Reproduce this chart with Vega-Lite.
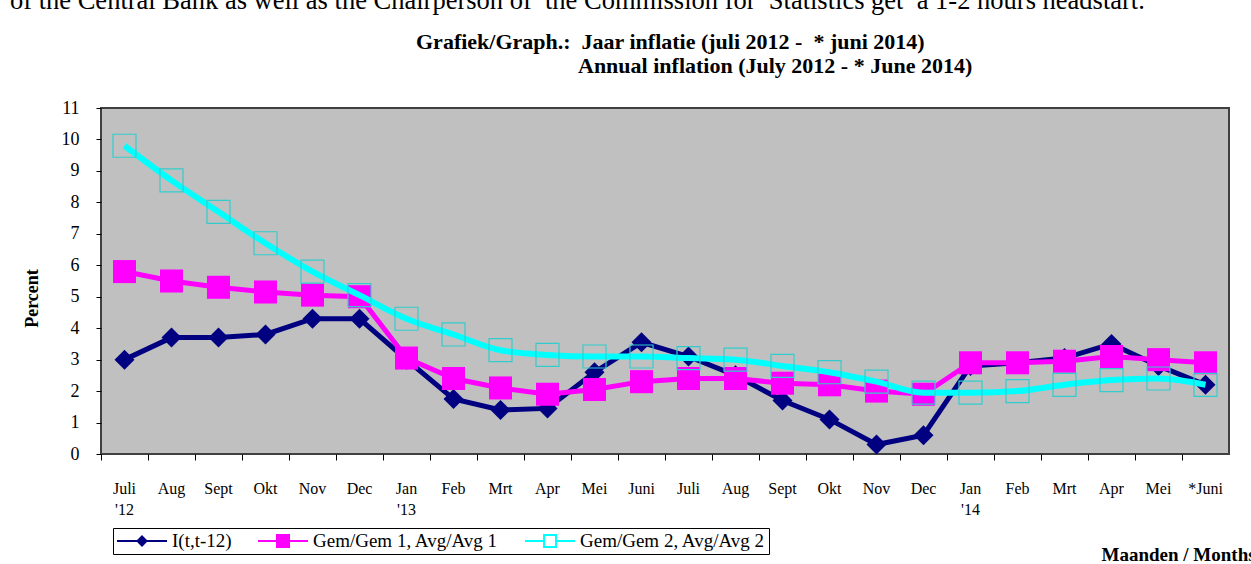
{
  "$schema": "https://vega.github.io/schema/vega-lite/v6.json",
  "background": "white",
  "padding": {"left": 10, "top": -13, "right": 0, "bottom": 0},
  "title": {
    "text": "of the Central Bank as well as the Chairperson of\u00a0 the Commission for\u00a0 Statistics get\u00a0 a 1-2 hours headstart.",
    "anchor": "start", "frame": "bounds", "dx": -12,
    "font": "Liberation Serif", "fontSize": 26.5, "fontWeight": "normal", "color": "black", "offset": 17
  },
  "datasets": {
    "d": [
      {"month": "Juli 2012", "series": "I(t,t-12)", "value": 3.0},
      {"month": "Aug 2012", "series": "I(t,t-12)", "value": 3.7},
      {"month": "Sept 2012", "series": "I(t,t-12)", "value": 3.7},
      {"month": "Okt 2012", "series": "I(t,t-12)", "value": 3.8},
      {"month": "Nov 2012", "series": "I(t,t-12)", "value": 4.3},
      {"month": "Dec 2012", "series": "I(t,t-12)", "value": 4.3},
      {"month": "Jan 2013", "series": "I(t,t-12)", "value": 3.0},
      {"month": "Feb 2013", "series": "I(t,t-12)", "value": 1.75},
      {"month": "Mrt 2013", "series": "I(t,t-12)", "value": 1.4},
      {"month": "Apr 2013", "series": "I(t,t-12)", "value": 1.45},
      {"month": "Mei 2013", "series": "I(t,t-12)", "value": 2.6},
      {"month": "Juni 2013", "series": "I(t,t-12)", "value": 3.55},
      {"month": "Juli 2013", "series": "I(t,t-12)", "value": 3.1},
      {"month": "Aug 2013", "series": "I(t,t-12)", "value": 2.5},
      {"month": "Sept 2013", "series": "I(t,t-12)", "value": 1.7},
      {"month": "Okt 2013", "series": "I(t,t-12)", "value": 1.1},
      {"month": "Nov 2013", "series": "I(t,t-12)", "value": 0.3},
      {"month": "Dec 2013", "series": "I(t,t-12)", "value": 0.6},
      {"month": "Jan 2014", "series": "I(t,t-12)", "value": 2.8},
      {"month": "Feb 2014", "series": "I(t,t-12)", "value": 2.9},
      {"month": "Mrt 2014", "series": "I(t,t-12)", "value": 3.05},
      {"month": "Apr 2014", "series": "I(t,t-12)", "value": 3.5},
      {"month": "Mei 2014", "series": "I(t,t-12)", "value": 2.8},
      {"month": "*Juni 2014", "series": "I(t,t-12)", "value": 2.2},
      {"month": "Juli 2012", "series": "Gem/Gem 1, Avg/Avg 1", "value": 5.8},
      {"month": "Aug 2012", "series": "Gem/Gem 1, Avg/Avg 1", "value": 5.5},
      {"month": "Sept 2012", "series": "Gem/Gem 1, Avg/Avg 1", "value": 5.3},
      {"month": "Okt 2012", "series": "Gem/Gem 1, Avg/Avg 1", "value": 5.15},
      {"month": "Nov 2012", "series": "Gem/Gem 1, Avg/Avg 1", "value": 5.05},
      {"month": "Dec 2012", "series": "Gem/Gem 1, Avg/Avg 1", "value": 5.0},
      {"month": "Jan 2013", "series": "Gem/Gem 1, Avg/Avg 1", "value": 3.05},
      {"month": "Feb 2013", "series": "Gem/Gem 1, Avg/Avg 1", "value": 2.4},
      {"month": "Mrt 2013", "series": "Gem/Gem 1, Avg/Avg 1", "value": 2.1},
      {"month": "Apr 2013", "series": "Gem/Gem 1, Avg/Avg 1", "value": 1.9},
      {"month": "Mei 2013", "series": "Gem/Gem 1, Avg/Avg 1", "value": 2.05},
      {"month": "Juni 2013", "series": "Gem/Gem 1, Avg/Avg 1", "value": 2.3},
      {"month": "Juli 2013", "series": "Gem/Gem 1, Avg/Avg 1", "value": 2.4},
      {"month": "Aug 2013", "series": "Gem/Gem 1, Avg/Avg 1", "value": 2.4},
      {"month": "Sept 2013", "series": "Gem/Gem 1, Avg/Avg 1", "value": 2.25},
      {"month": "Okt 2013", "series": "Gem/Gem 1, Avg/Avg 1", "value": 2.2},
      {"month": "Nov 2013", "series": "Gem/Gem 1, Avg/Avg 1", "value": 2.0},
      {"month": "Dec 2013", "series": "Gem/Gem 1, Avg/Avg 1", "value": 1.9},
      {"month": "Jan 2014", "series": "Gem/Gem 1, Avg/Avg 1", "value": 2.9},
      {"month": "Feb 2014", "series": "Gem/Gem 1, Avg/Avg 1", "value": 2.9},
      {"month": "Mrt 2014", "series": "Gem/Gem 1, Avg/Avg 1", "value": 2.95},
      {"month": "Apr 2014", "series": "Gem/Gem 1, Avg/Avg 1", "value": 3.1},
      {"month": "Mei 2014", "series": "Gem/Gem 1, Avg/Avg 1", "value": 3.0},
      {"month": "*Juni 2014", "series": "Gem/Gem 1, Avg/Avg 1", "value": 2.9},
      {"month": "Juli 2012", "series": "Gem/Gem 2, Avg/Avg 2", "value": 9.8},
      {"month": "Aug 2012", "series": "Gem/Gem 2, Avg/Avg 2", "value": 8.7},
      {"month": "Sept 2012", "series": "Gem/Gem 2, Avg/Avg 2", "value": 7.7},
      {"month": "Okt 2012", "series": "Gem/Gem 2, Avg/Avg 2", "value": 6.7},
      {"month": "Nov 2012", "series": "Gem/Gem 2, Avg/Avg 2", "value": 5.8},
      {"month": "Dec 2012", "series": "Gem/Gem 2, Avg/Avg 2", "value": 5.05},
      {"month": "Jan 2013", "series": "Gem/Gem 2, Avg/Avg 2", "value": 4.3},
      {"month": "Feb 2013", "series": "Gem/Gem 2, Avg/Avg 2", "value": 3.8},
      {"month": "Mrt 2013", "series": "Gem/Gem 2, Avg/Avg 2", "value": 3.3},
      {"month": "Apr 2013", "series": "Gem/Gem 2, Avg/Avg 2", "value": 3.15},
      {"month": "Mei 2013", "series": "Gem/Gem 2, Avg/Avg 2", "value": 3.1},
      {"month": "Juni 2013", "series": "Gem/Gem 2, Avg/Avg 2", "value": 3.1},
      {"month": "Juli 2013", "series": "Gem/Gem 2, Avg/Avg 2", "value": 3.05},
      {"month": "Aug 2013", "series": "Gem/Gem 2, Avg/Avg 2", "value": 3.0},
      {"month": "Sept 2013", "series": "Gem/Gem 2, Avg/Avg 2", "value": 2.8},
      {"month": "Okt 2013", "series": "Gem/Gem 2, Avg/Avg 2", "value": 2.6},
      {"month": "Nov 2013", "series": "Gem/Gem 2, Avg/Avg 2", "value": 2.3},
      {"month": "Dec 2013", "series": "Gem/Gem 2, Avg/Avg 2", "value": 1.95},
      {"month": "Jan 2014", "series": "Gem/Gem 2, Avg/Avg 2", "value": 1.95},
      {"month": "Feb 2014", "series": "Gem/Gem 2, Avg/Avg 2", "value": 2.0},
      {"month": "Mrt 2014", "series": "Gem/Gem 2, Avg/Avg 2", "value": 2.2},
      {"month": "Apr 2014", "series": "Gem/Gem 2, Avg/Avg 2", "value": 2.35},
      {"month": "Mei 2014", "series": "Gem/Gem 2, Avg/Avg 2", "value": 2.4},
      {"month": "*Juni 2014", "series": "Gem/Gem 2, Avg/Avg 2", "value": 2.2}
    ]
  },
  "vconcat": [
    {
      "title": {
        "text": "Grafiek/Graph.:\u00a0 Jaar inflatie (juli 2012 -\u00a0 * juni 2014)",
        "anchor": "start", "frame": "group", "dx": 315,
        "font": "Liberation Serif", "fontSize": 22, "fontWeight": "bold", "color": "black", "offset": 0
      },
      "vconcat": [
        {
          "title": {
            "text": "Annual inflation (July 2012 - * June 2014)",
            "anchor": "start", "frame": "group", "dx": 477,
            "font": "Liberation Serif", "fontSize": 22, "fontWeight": "bold", "color": "black", "offset": 21
          },
          "width": 1128,
          "height": 346,
          "data": {"name": "d"},
          "encoding": {
            "x": {
              "field": "month", "type": "nominal", "sort": null,
              "scale": {"type": "band", "paddingInner": 0, "paddingOuter": 0},
              "axis": {
                "title": "Maanden / Months",
                "titleX": 1000, "titleY": 106, "titleAlign": "left", "titleBaseline": "alphabetic",
                "titleFontSize": 19, "titleFontWeight": "bold",
                "labelAngle": 0, "labelFontSize": 16, "labelPadding": 20, "labelLineHeight": 21,
                "tickSize": 6, "bandPosition": 0, "domain": false,
                "labelExpr": "datum.label === 'Juli 2012' ? ['Juli', \"'12\"] : datum.label === 'Jan 2013' ? ['Jan', \"'13\"] : datum.label === 'Jan 2014' ? ['Jan', \"'14\"] : split(datum.label, ' ')[0]"
              }
            },
            "y": {
              "field": "value", "type": "quantitative",
              "scale": {"domain": [0, 11], "nice": false},
              "axis": {
                "title": "Percent", "titleFontSize": 18, "titleFontWeight": "bold", "titlePadding": 20, "titleY": 190,
                "values": [0, 1, 2, 3, 4, 5, 6, 7, 8, 9, 10, 11],
                "labelFontSize": 18, "tickSize": 5, "labelPadding": 17, "domain": false
              }
            }
          },
          "layer": [
            {
              "transform": [{"filter": "datum.series === 'I(t,t-12)'"}],
              "mark": {"type": "line", "strokeWidth": 5},
              "encoding": {
                "color": {
                  "field": "series", "type": "nominal",
                  "scale": {
                    "domain": ["I(t,t-12)", "Gem/Gem 1, Avg/Avg 1", "Gem/Gem 2, Avg/Avg 2"],
                    "range": ["#000080", "#ff00ff", "#00ffff"]
                  },
                  "legend": {
                    "title": null, "orient": "none", "legendX": 12, "legendY": 420,
                    "direction": "horizontal", "strokeColor": "black", "padding": 3,
                    "symbolSize": 2500, "clipHeight": 20, "symbolStrokeWidth": 2,
                    "labelFont": "Liberation Serif", "labelFontSize": 19, "labelColor": "black",
                    "labelOffset": 4, "columnPadding": 25, "labelLimit": 400,
                    "encode": {
                      "symbols": {
                        "update": {
                          "shape": {"signal": "datum.value === 'I(t,t-12)' ? 'M-1,0H1M0,-0.18L0.18,0L0,0.18L-0.18,0Z' : datum.value === 'Gem/Gem 1, Avg/Avg 1' ? 'M-1,0H1M-0.24,-0.24H0.24V0.24H-0.24Z' : 'M-1,0H-0.24M0.24,0H1M-0.24,-0.24H0.24V0.24H-0.24Z'"},
                          "fill": {"signal": "datum.value === 'I(t,t-12)' ? '#000080' : datum.value === 'Gem/Gem 1, Avg/Avg 1' ? '#ff00ff' : 'white'"},
                          "strokeWidth": {"value": 2},
                          "opacity": {"value": 1}
                        }
                      }
                    }
                  }
                }
              }
            },
            {
              "transform": [{"filter": "datum.series === 'I(t,t-12)'"}],
              "mark": {"type": "point", "shape": "diamond", "size": 400, "filled": true, "color": "#000080", "opacity": 1}
            },
            {
              "transform": [{"filter": "datum.series === 'Gem/Gem 1, Avg/Avg 1'"}],
              "mark": {"type": "line", "strokeWidth": 5},
              "encoding": {"color": {"field": "series", "type": "nominal"}}
            },
            {
              "transform": [{"filter": "datum.series === 'Gem/Gem 1, Avg/Avg 1'"}],
              "mark": {"type": "point", "shape": "square", "size": 530, "filled": true, "color": "#ff00ff", "opacity": 1}
            },
            {
              "transform": [{"filter": "datum.series === 'Gem/Gem 2, Avg/Avg 2'"}],
              "mark": {"type": "line", "strokeWidth": 6, "interpolate": "monotone"},
              "encoding": {"color": {"field": "series", "type": "nominal"}}
            },
            {
              "transform": [{"filter": "datum.series === 'Gem/Gem 2, Avg/Avg 2'"}],
              "mark": {"type": "point", "shape": "square", "size": 530, "filled": false, "stroke": "#33cccc", "strokeWidth": 1.2, "opacity": 1}
            }
          ]
        }
      ]
    }
  ],
  "config": {
    "view": {"fill": "#c0c0c0", "stroke": "#404040", "strokeWidth": 2},
    "axis": {
      "labelFont": "Liberation Serif", "titleFont": "Liberation Serif",
      "labelColor": "black", "titleColor": "black", "tickColor": "black", "grid": false
    },
    "title": {"font": "Liberation Serif", "color": "black"}
  }
}
